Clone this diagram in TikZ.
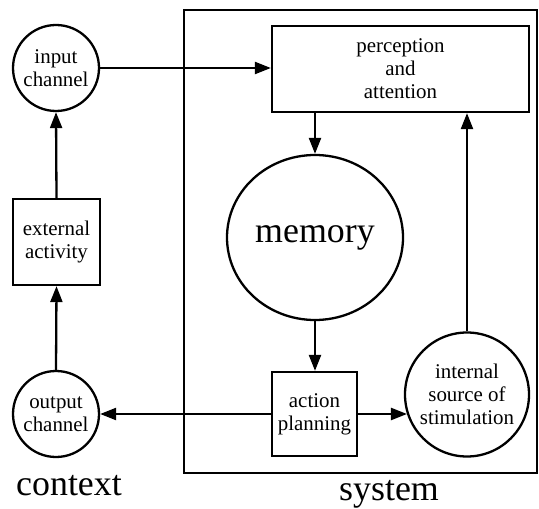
\documentclass[tikz,border=0pt]{standalone}
\usepackage{fontspec}
\setmainfont{Liberation Serif}
\usetikzlibrary{arrows.meta,shapes.geometric}

\begin{document}
\begin{tikzpicture}[x=1bp, y=-1bp, line width=2.3bp,
    every node/.style={font=\fontsize{21}{23}\selectfont, align=center, inner sep=0pt},
    chan/.style={draw, circle, minimum size=86bp},
    box/.style={draw, rectangle},
    big/.style={font=\fontsize{36}{40}\selectfont},
    flow/.style={-{Triangle[length=16bp,width=12bp]}}]
    \useasboundingbox (0,0) rectangle (539,509);

    % System frame
    \node[box, minimum width=353bp, minimum height=463bp] (system) at (360.5,241.5) {};

    % Context side - circles and the box between them
    \node[chan] (input) at (56,68) {input\\channel};
    \node[box, minimum width=87bp, minimum height=86bp] (external) at (56.5,242) {external\\activity};
    \node[chan] (output) at (56,414) {output\\channel};

    % Inside the system
    \node[box, minimum width=257bp, minimum height=86bp] (perception) at (400.5,69) {perception\\and\\attention};
    \node[draw, ellipse, minimum width=176bp, minimum height=165bp, big] (memory) at (315,237.5) {memory};
    \node[box, minimum width=85bp, minimum height=84bp] (action) at (314.5,414) {action\\planning};
    \node[chan, minimum size=124bp] (internal) at (467,394.5) {internal\\source of\\stimulation};

    % Connectors
    \draw[flow] (input.east) -- (input.east -| perception.west);
    \draw[flow] (perception.south -| memory.north) -- (memory.north);
    \draw[flow] (memory.south) -- (memory.south |- action.north);
    \draw[flow] (action.east) -- (action.east -| internal.198);
    \draw[flow] (internal.north) -- (internal.north |- perception.south);
    \draw[flow] (action.west) -- (action.west -| output.east);
    \draw[flow] (output.north) -- (external.south);
    \draw[flow] (external.north) -- (input.south);

    % Labels under the two parts
    \node[big, anchor=base] (contextlabel) at (69,495) {context};
    \node[big, anchor=base] (systemlabel) at (389,500) {system};
\end{tikzpicture}
\end{document}
